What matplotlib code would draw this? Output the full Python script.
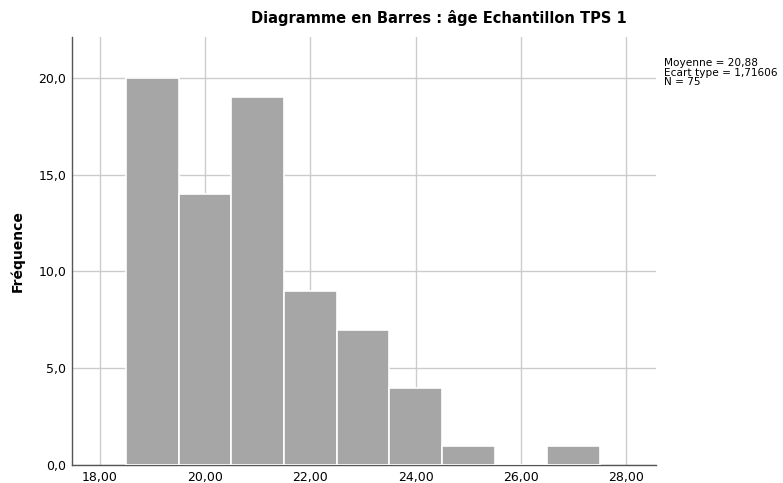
import matplotlib.pyplot as plt

ages = [19, 20, 21, 22, 23, 24, 25, 26, 27]
frequences = [20, 14, 19, 9, 7, 4, 1, 0, 1]
xticks = [18, 20, 22, 24, 26, 28]
yticks = [0, 5, 10, 15, 20]
stats_text = "Moyenne = 20,88\nEcart type = 1,71606\nN = 75"

fig = plt.figure(figsize=(7.83, 4.83), dpi=100)
ax = fig.add_axes([0.092, 0.037, 0.746, 0.886])

ax.bar(ages, frequences, width=1.0, color='#a6a6a6', edgecolor='white',
       linewidth=1.2, zorder=3)

ax.set_xlim(17.47, 28.57)
ax.set_ylim(0, 22.1)
ax.set_xticks(xticks)
ax.set_xticklabels([f"{t:.2f}".replace('.', ',') for t in xticks], fontsize=9)
ax.set_yticks(yticks)
ax.set_yticklabels([f"{t:.1f}".replace('.', ',') for t in yticks], fontsize=9)
ax.tick_params(length=0, pad=4)

ax.grid(True, color='#cccccc', linewidth=1, zorder=0)
for s in ['top', 'right']:
    ax.spines[s].set_visible(False)
for s in ['left', 'bottom']:
    ax.spines[s].set_color('#555555')
    ax.spines[s].set_linewidth(1)

ax.set_ylabel("Fréquence", fontsize=10, fontweight='bold', labelpad=10)

fig.text(0.561, 0.963, "Diagramme en Barres : âge Echantillon TPS 1",
         ha='center', va='center', fontsize=10.5, fontweight='bold')
fig.text(0.848, 0.88, stats_text, ha='left', va='top', fontsize=7.6,
         linespacing=0.95)

fig.savefig("out.png", dpi=100)
